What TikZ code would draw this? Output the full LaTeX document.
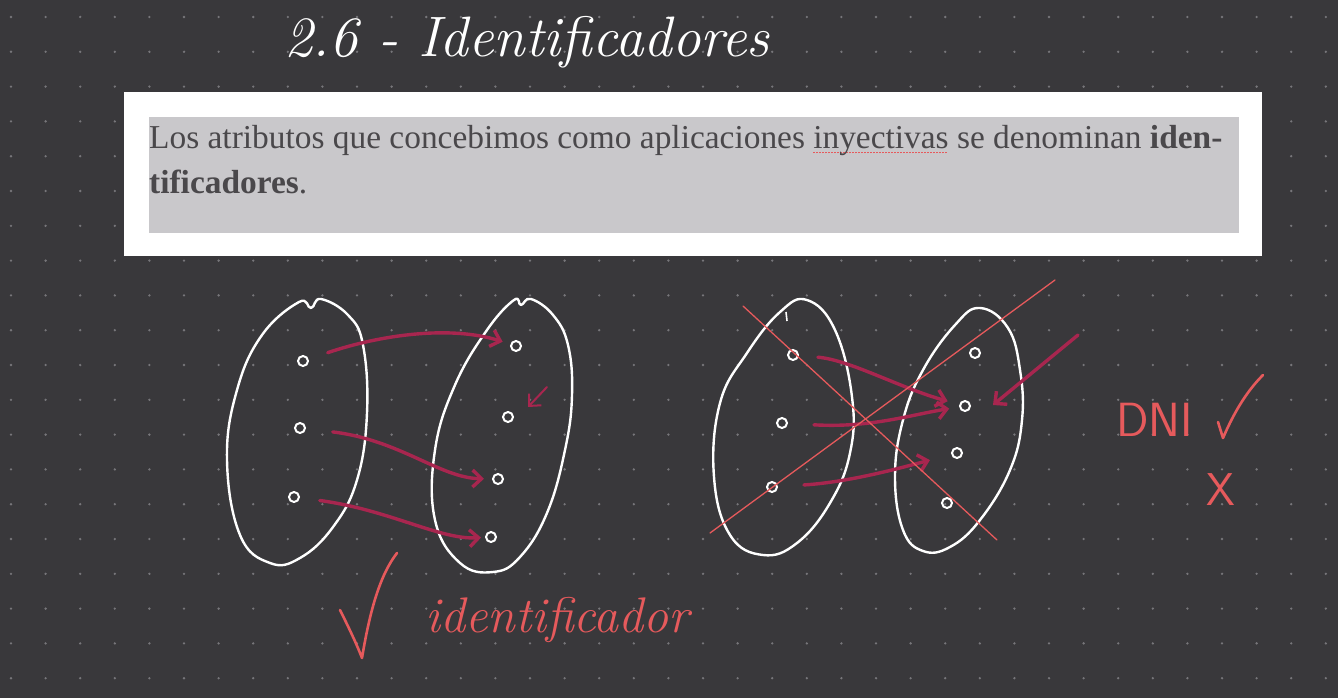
\documentclass[tikz,border=0pt]{standalone}
\usepackage{fontspec}
\newfontfamily\bookfont{Liberation Serif}
\usetikzlibrary{arrows.meta}

\definecolor{board}{HTML}{39383B}
\definecolor{griddot}{HTML}{77767A}
\definecolor{inkwine}{HTML}{A8264F}
\definecolor{inkred}{HTML}{E65A5C}
\definecolor{pagegray}{HTML}{C9C8CB}
\definecolor{printink}{HTML}{4A484B}

% spell-check mark under a word
\newsavebox\spellbox
\newcommand\spellmark[1]{\sbox\spellbox{#1}\rlap{\textcolor{inkred}{\hbox to\wd\spellbox{\leaders\hbox{\rule[-5.5pt]{2pt}{2pt}\hspace{1pt}}\hfill}}}\usebox\spellbox}

\tikzset{
  elem/.style={circle,draw=white,line width=2pt,inner sep=0pt,minimum size=10pt},
  setline/.style={draw=white,line width=2.4pt,line join=round},
  mapto/.style={->,draw=inkwine,line width=3.4pt,line cap=round},
  crossout/.style={draw=inkred,line width=1.3pt,line cap=round},
  tick/.style={draw=inkred,line width=2.6pt,line cap=round,line join=round}
}

\begin{document}
\begin{tikzpicture}[x=1pt,y=-1pt,>={Straight Barb[length=9pt,width=17pt]}]
  \fill[board] (0,0) rectangle (1338,698);
  % dotted board
  \foreach \i in {0,...,38}
    \foreach \j in {0,...,19}
      \fill[griddot] (11+34.6*\i,17+34.8*\j) circle (1.3);

  \node[text=white,font=\fontsize{57}{64}\selectfont\itshape] (title) at (527,42) {2.6 - Identificadores};

  % pasted definition
  \fill[white] (124,92) rectangle (1262,256);
  \fill[pagegray] (149,117) rectangle (1239,233);
  \node[anchor=base west,inner sep=0pt,text=printink,font=\bookfont\fontsize{33.4}{40}\selectfont] (line1) at (149,148)
    {Los atributos que concebimos como aplicaciones \spellmark{inyectivas} se denominan \textbf{iden-}};
  \node[anchor=base west,inner sep=0pt,text=printink,font=\bookfont\fontsize{33.4}{40}\selectfont] (line2) at (149,193)
    {\textbf{tificadores}.};

  % injective map
  \draw[setline] plot[smooth cycle,tension=0.7] coordinates {(299,302) (311,308) (321,299) (348,315) (363,345) (367,413) (357,480) (333,527) (300,558) (270,563) (240,535) (227,460) (237,390) (262,335)};
  \draw[setline] plot[smooth cycle,tension=0.7] coordinates {(514,300) (521,305) (531,299) (553,315) (568,345) (572,395) (565,450) (547,513) (520,557) (493,572) (460,563) (435,520) (435,450) (455,385) (487,330)};
  \node[elem] (a1) at (303,361) {};
  \node[elem] (a2) at (300,428) {};
  \node[elem] (a3) at (294,497) {};
  \node[elem] (b1) at (516,346) {};
  \node[elem] (b2) at (508,417) {};
  \node[elem] (b3) at (498,479) {};
  \node[elem] (b4) at (491,537) {};
  \draw[mapto,shorten <=20pt,shorten >=8pt] (a1) .. controls (380,335) and (450,325) .. (b1);
  \draw[mapto,shorten <=27pt,shorten >=8pt] (a2) .. controls (400,440) and (440,478) .. (b3);
  \draw[mapto,shorten <=20pt,shorten >=4pt] (a3) .. controls (390,510) and (440,540) .. (b4);
  \coordinate (s1) at (547,387);
  \coordinate (s2) at (528,407);
  \draw[mapto,line width=2pt] (s1) -- (s2);

  \draw[tick] (340,610) .. controls (350,630) and (357,645) .. (362,658) .. controls (370,610) and (380,575) .. (397,553);
  \node[anchor=base west,inner sep=0pt,text=inkred,font=\fontsize{50}{54}\selectfont\itshape] (ok) at (425,632) {identificador};

  % not injective
  \draw[setline] plot[smooth cycle,tension=0.7] coordinates {(807,300) (835,330) (852,397) (850,453) (830,503) (797,543) (763,555) (730,535) (714,477) (720,403) (747,353) (780,312)};
  \draw[setline,line width=1.6pt] (786,312) -- (787,321);
  \draw[setline] plot[smooth cycle,tension=0.7] coordinates {(980,308) (1008,328) (1020,370) (1022,420) (1010,470) (980,520) (950,547) (923,551) (903,530) (895,477) (903,420) (923,370) (955,325)};
  \node[elem] (c1) at (793,355) {};
  \node[elem] (c2) at (782,423) {};
  \node[elem] (c3) at (772,487) {};
  \node[elem] (d1) at (975,353) {};
  \node[elem] (d2) at (965,406) {};
  \node[elem] (d3) at (957,453) {};
  \node[elem] (d4) at (947,503) {};
  \draw[mapto,shorten <=19pt,shorten >=12pt] (c1) .. controls (850,360) and (900,388) .. (d2);
  \draw[mapto,shorten <=26pt,shorten >=10pt] (c2) .. controls (870,428) and (910,415) .. (d2);
  \draw[mapto,shorten <=26pt,shorten >=22pt] (c3) .. controls (850,482) and (900,468) .. (d3);
  \coordinate (t1) at (1078,335);
  \coordinate (t2) at (993,405);
  \draw[mapto] (t1) -- (t2);

  \coordinate (x1) at (743,306);
  \coordinate (x2) at (997,540);
  \coordinate (y1) at (710,533);
  \coordinate (y2) at (1055,280);
  \draw[crossout] (x1) -- (x2);
  \draw[crossout] (y1) -- (y2);

  \node[anchor=base west,inner sep=0pt,text=inkred,font=\sffamily\fontsize{48}{52}\selectfont] (dni) at (1116,436) {DNI};
  \draw[tick] (1218,422) -- (1223,438) .. controls (1235,410) and (1248,390) .. (1263,375);
  \node[text=inkred,font=\sffamily\fontsize{46}{50}\selectfont] (no) at (1221,490) {X};
\end{tikzpicture}
\end{document}
